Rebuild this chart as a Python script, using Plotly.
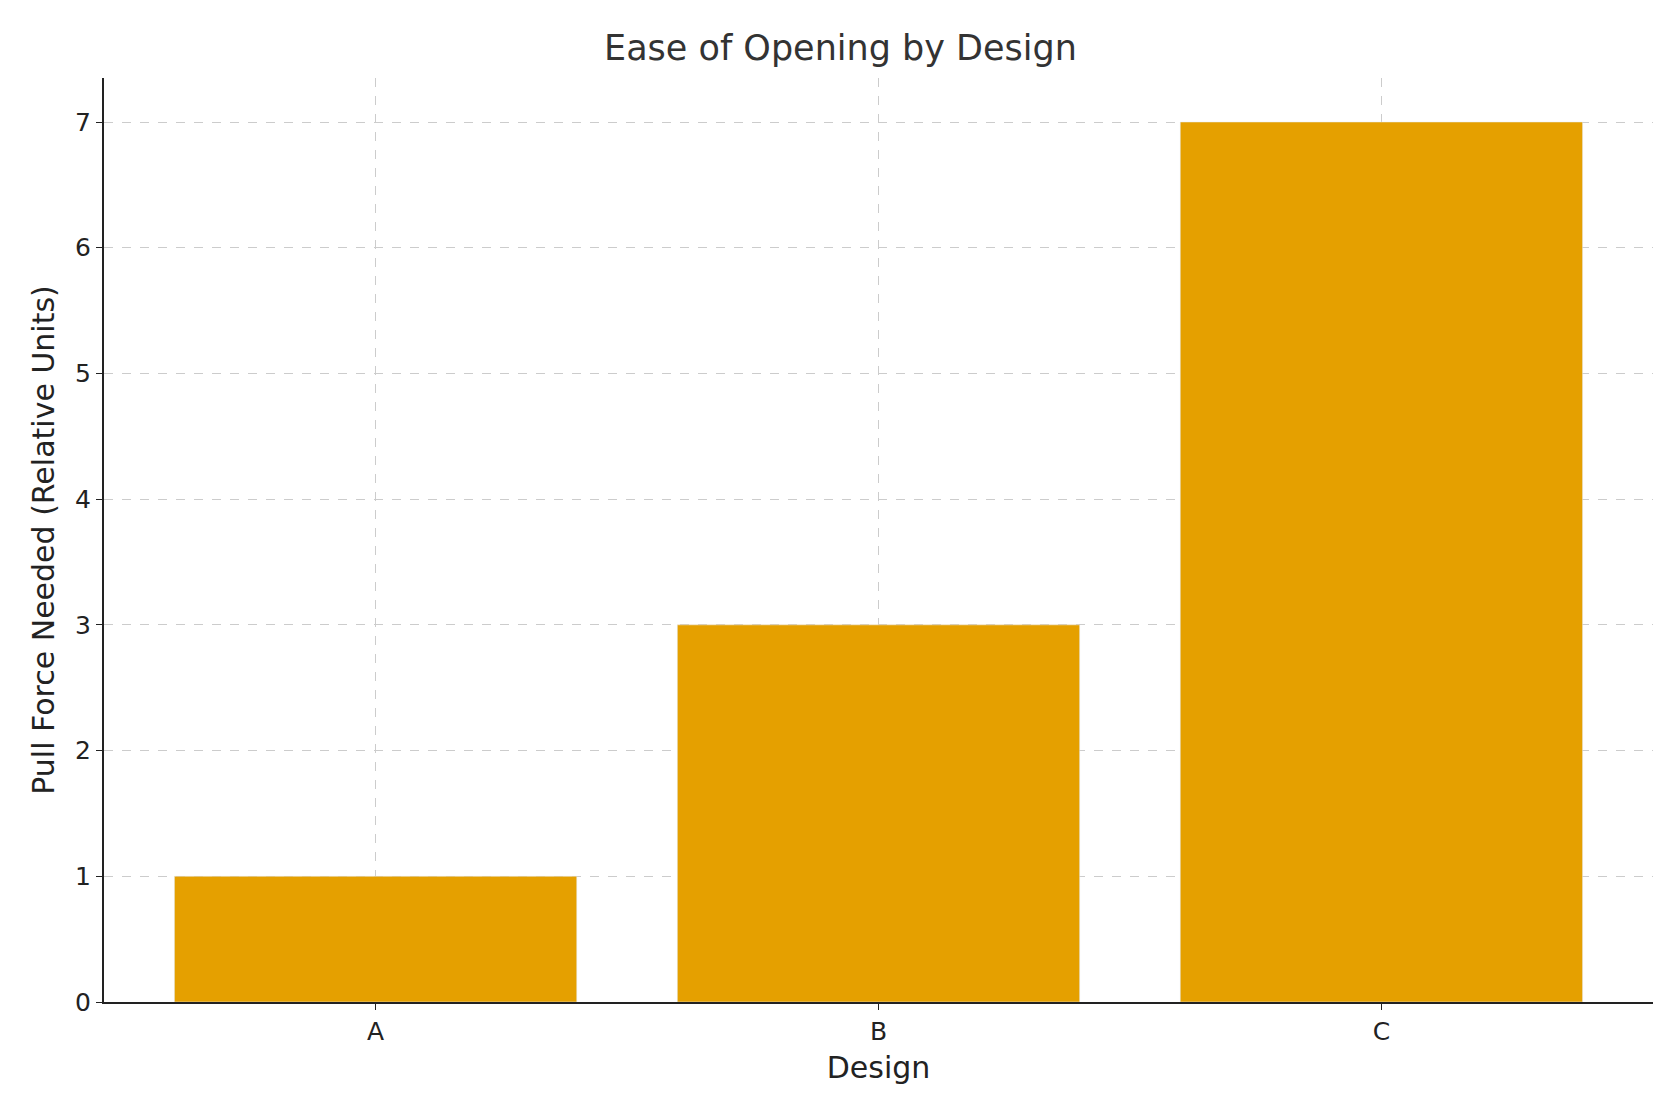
import plotly.graph_objects as go

designs = ["A", "B", "C"]
pull_force = [1, 3, 7]

fig = go.Figure(go.Bar(x=designs, y=pull_force, marker_color="#E5A000", width=0.8))
W, H = 1665, 1101
fig.update_layout(
    width=W, height=H, plot_bgcolor="white", paper_bgcolor="white",
    font=dict(family="DejaVu Sans", size=25, color="#222"),
    title=dict(text="Ease of Opening by Design", x=0.5, xanchor="center", y=1-40/H, yanchor="middle",
               font=dict(size=35, color="#333")),
    margin=dict(l=96, r=W-1645, t=70, b=H-994),
    showlegend=False,
)
fig.update_xaxes(range=[-0.54, 2.54], showline=True, linecolor="#222", linewidth=2,
                 showgrid=True, gridcolor="#ccc", griddash="dash", gridwidth=1,
                 ticks="outside", ticklen=6, tickcolor="#222",
                 title=dict(text="Design", standoff=12))
fig.update_yaxes(range=[0, 7.35], dtick=1, showline=True, linecolor="#222", linewidth=2,
                 showgrid=True, gridcolor="#ccc", griddash="dash", gridwidth=1, zeroline=False,
                 ticks="outside", ticklen=6, tickcolor="#222",
                 title=dict(text="Pull Force Needed (Relative Units)", standoff=12))
fig.write_html("out.html")
